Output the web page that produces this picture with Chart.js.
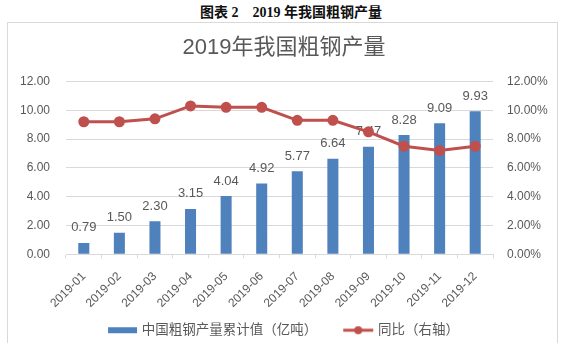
<!DOCTYPE html>
<html lang="zh-CN">
<head>
  <meta charset="UTF-8" />
  <title>2019年我国粗钢产量</title>
  <script src="https://cdn.jsdelivr.net/npm/chart.js"></script>
<style>
  html, body {
    margin: 0;
    padding: 0;
    width: 568px;
    height: 343px;
    overflow: hidden;
    background: #ffffff;
  }

  .page-title {
    position: absolute;
    top: 1px;
    left: 0;
    width: 568px;
    padding-left: 14px;
    box-sizing: border-box;
    text-align: center;
    font: bold 14px 'Liberation Serif', 'Noto Sans CJK SC', serif;
    color: #111;
  }

  .frame {
    position: absolute;
    left: 7px;
    top: 22px;
    width: 549px;
    height: 340px;
    border: 1px solid #d9d9d9;
  }

  .container {
    position: absolute;
    left: 0;
    top: 0;
    width: 568px;
    height: 347px;
  }
</style>
</head>
<body>
  <div class="page-title">图表 2&nbsp;&nbsp;&nbsp;&nbsp;2019 年我国粗钢产量</div>
  <div class="frame"></div>
  <div class="container">
    <canvas id="grafico"></canvas>
  </div>

  <script>
    // dados
    const months = ['2019-01', '2019-02', '2019-03', '2019-04', '2019-05', '2019-06',
                    '2019-07', '2019-08', '2019-09', '2019-10', '2019-11', '2019-12'];
    const output = [0.79, 1.50, 2.30, 3.15, 4.04, 4.92, 5.77, 6.64, 7.47, 8.28, 9.09, 9.93];
    const yoy = [9.2, 9.2, 9.4, 10.3, 10.2, 10.2, 9.3, 9.3, 8.5, 7.5, 7.2, 7.5];
    const leftTicks = [0, 2, 4, 6, 8, 10, 12];

    const gray = '#595959';
    const gridColor = '#d9d9d9';
    const blue = '#4f81bd';
    const red = '#c0504d';
    const fontFamily = "'Liberation Sans', 'Noto Sans CJK SC', sans-serif";

    // ícone da legenda: barra e linha com marcador
    function legendIcon(kind) {
      const c = document.createElement('canvas');
      c.width = 32;
      c.height = 10;
      const g = c.getContext('2d');
      if (kind === 'bar') {
        g.fillStyle = blue;
        g.fillRect(2, 2, 29, 6);
      } else {
        g.strokeStyle = red;
        g.lineWidth = 3;
        g.beginPath();
        g.moveTo(1, 5);
        g.lineTo(31, 5);
        g.stroke();
        g.fillStyle = red;
        g.beginPath();
        g.arc(16, 5, 4, 0, Math.PI * 2);
        g.fill();
      }
      return c;
    }

    // rótulos de valor sobre as barras
    const barLabels = {
      id: 'barLabels',
      afterDatasetDraw(chart, args) {
        if (args.index !== 0) return;
        const ctx = chart.ctx;
        ctx.save();
        ctx.font = '13px ' + fontFamily;
        ctx.fillStyle = gray;
        ctx.textAlign = 'center';
        ctx.textBaseline = 'middle';
        args.meta.data.forEach((bar, i) => {
          ctx.fillText(output[i].toFixed(2), bar.x, bar.y - 15);
        });
        ctx.restore();
      }
    };

    const ctx = document.getElementById('grafico').getContext('2d');
    const chart = new Chart(ctx, {
      type: 'bar',
      data: {
        labels: months,
        datasets: [{
          type: 'bar',
          label: '中国粗钢产量累计值（亿吨）',
          data: output,
          backgroundColor: blue,
          barPercentage: 0.31,
          categoryPercentage: 1,
          yAxisID: 'y',
          order: 1
        }, {
          type: 'line',
          label: '同比（右轴）',
          data: yoy,
          borderColor: red,
          backgroundColor: red,
          borderWidth: 3,
          pointRadius: 4,
          pointBackgroundColor: red,
          pointBorderColor: red,
          tension: 0,
          yAxisID: 'y1',
          order: 0
        }]
      },
      options: {
        responsive: true,
        maintainAspectRatio: false,
        animation: false,
        layout: { padding: 0 },
        scales: {
          x: {
            grid: {
              offset: true,
              drawOnChartArea: false,
              drawTicks: true,
              tickLength: 4,
              color: gridColor
            },
            border: { color: gridColor },
            ticks: {
              color: gray,
              font: { family: fontFamily, size: 12 },
              maxRotation: 45,
              minRotation: 45,
              padding: 11
            },
            afterFit: function(scale) { scale.height = 55; }
          },
          y: {
            position: 'left',
            min: 0,
            max: 12,
            afterBuildTicks: function(scale) {
              scale.ticks = leftTicks.map(v => ({ value: v }));
            },
            grid: { color: gridColor, drawTicks: false },
            border: { display: false },
            ticks: {
              color: gray,
              padding: 16,
              font: { family: fontFamily, size: 12 },
              callback: function(value) {
                return Number(value).toFixed(2);
              }
            },
            afterFit: function(scale) { scale.width = 66; }
          },
          y1: {
            position: 'right',
            min: 0,
            max: 12,
            afterBuildTicks: function(scale) {
              scale.ticks = leftTicks.map(v => ({ value: v }));
            },
            grid: { display: false, drawTicks: false },
            border: { display: false },
            ticks: {
              color: gray,
              padding: 14,
              font: { family: fontFamily, size: 12 },
              callback: function(value) {
                return Number(value).toFixed(2) + '%';
              }
            },
            afterFit: function(scale) { scale.width = 75; }
          }
        },
        plugins: {
          title: {
            display: true,
            text: '2019年我国粗钢产量',
            color: gray,
            font: { family: fontFamily, size: 22, weight: 'normal' },
            padding: { top: 35, bottom: 20 }
          },
          legend: {
            position: 'bottom',
            // título vazio só para subir a linha da legenda
            title: {
              display: true,
              text: '',
              font: { size: 1 },
              padding: { top: -15, bottom: 0 }
            },
            labels: {
              color: gray,
              font: { family: fontFamily, size: 13.5 },
              usePointStyle: true,
              pointStyleWidth: 26,
              padding: 28,
              generateLabels: function(chart) {
                return chart.data.datasets.map((ds, i) => ({
                  text: ds.label,
                  fontColor: gray,
                  pointStyle: legendIcon(ds.type),
                  datasetIndex: i,
                  hidden: false,
                  lineWidth: 0
                }));
              }
            }
          },
          tooltip: { enabled: false }
        }
      },
      plugins: [barLabels]
    });
  </script>
</body>
</html>
